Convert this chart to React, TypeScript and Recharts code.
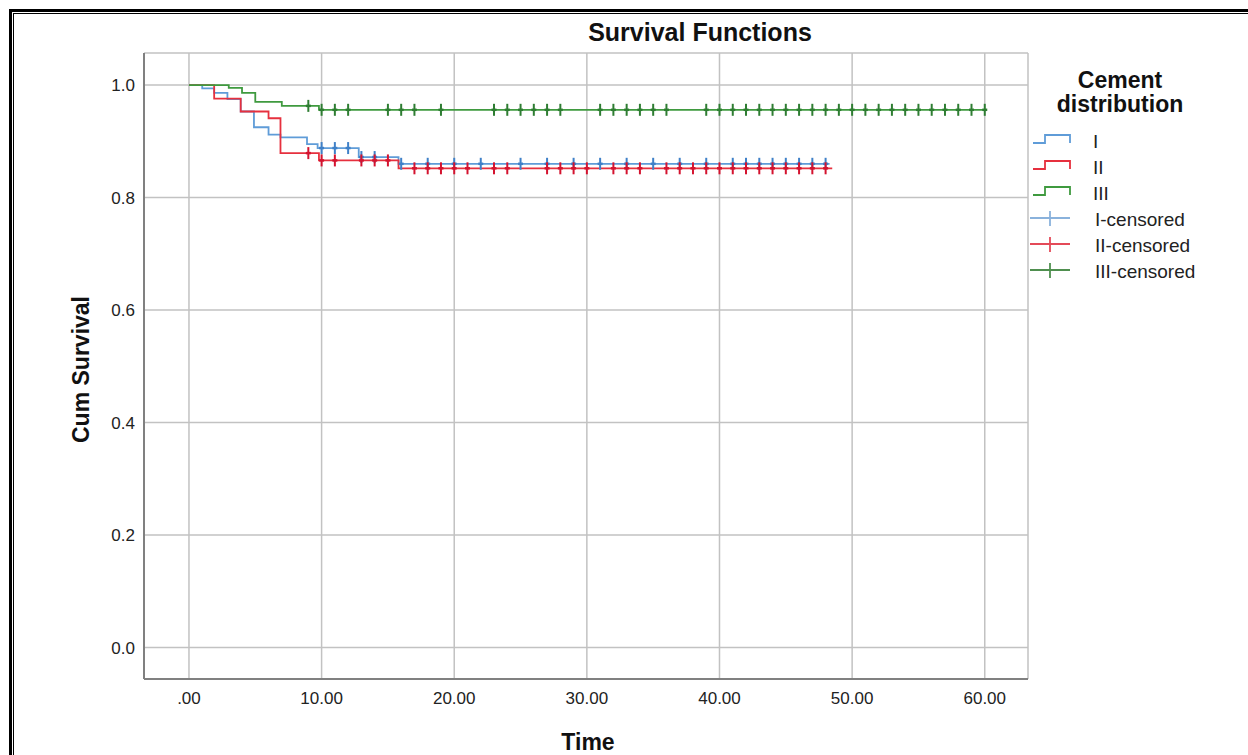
import React from "react";
import { ComposedChart, Line, Scatter, XAxis, YAxis, CartesianGrid } from "recharts";

// Kaplan-Meier steps: event time and survival after the step
const timeI = [0, 1, 1.9, 2.9, 3.9, 4.9, 6, 6.9, 8.9, 9.7, 12.8, 15.8];
const survI = [1, 0.994, 0.986, 0.975, 0.953, 0.925, 0.912, 0.907, 0.895, 0.888, 0.872, 0.86];
const endI = 48.3;

const timeII = [0, 1.9, 3.9, 6, 6.9, 9.8, 15.8];
const survII = [1, 0.976, 0.953, 0.941, 0.879, 0.866, 0.852];
const endII = 48.5;

const timeIII = [0, 3, 4, 5, 7, 9.8];
const survIII = [1, 0.995, 0.986, 0.97, 0.963, 0.956];
const endIII = 60.1;

// censored times
const censorI = [10, 11, 12, 13, 14, 16, 18, 20, 22, 25, 27, 29, 31, 33, 35, 37, 39, 41, 42, 43, 44, 45, 46, 47, 48];
const censorII = [9, 10, 11, 13, 14, 15, 17, 18, 19, 20, 21, 23, 24, 27, 28, 29, 30, 32, 33, 34, 36, 37, 38, 39, 40, 41, 42, 43, 44, 45, 46, 47, 48];
const censorIII = [9, 10, 11, 12, 15, 16, 17, 19, 23, 24, 25, 26, 27, 28, 31, 32, 33, 34, 35, 36, 39, 40, 41, 42, 43, 44, 45, 46, 47, 48, 49, 50, 51, 52, 53, 54, 55, 56, 57, 58, 59, 60];

const xTicks = [0, 10, 20, 30, 40, 50, 60];
const yTicks = [0, 0.2, 0.4, 0.6, 0.8, 1.0];

const legendLabels = ["I", "II", "III", "I-censored", "II-censored", "III-censored"];

const LINE = { I: "#5f9cd8", II: "#e6303e", III: "#3f9a3f" };
const TICK = { I: "#3f80c8", II: "#d4132f", III: "#2e7d32" };
const FONT = "'Liberation Sans', Arial, sans-serif";

const stepData = (times: number[], surv: number[], end: number) => [
  ...times.map((t, i) => ({ t, s: surv[i] })),
  { t: end, s: surv[surv.length - 1] },
];

const survAt = (times: number[], surv: number[], t: number) => {
  let s = surv[0];
  times.forEach((x, i) => {
    if (x <= t) s = surv[i];
  });
  return s;
};

const censorData = (cens: number[], times: number[], surv: number[]) =>
  cens.map((t) => ({ t, s: survAt(times, surv, t) }));

const censorShape = (color: string) => (props: any) => {
  const { cx, cy } = props;
  return (
    <g>
      <line x1={cx} x2={cx} y1={cy - 6} y2={cy + 6} stroke={color} strokeWidth={2} />
      <line x1={cx - 2.5} x2={cx + 2.5} y1={cy} y2={cy} stroke={color} strokeWidth={2.5} />
    </g>
  );
};

const XTick = ({ x, y, payload }: any) => (
  <text x={x} y={y} dy="0.71em" textAnchor="middle" fontSize={17} fill="#222" fontFamily={FONT}>
    {payload.value.toFixed(2).replace(/^0\./, ".")}
  </text>
);

const YTick = ({ x, y, payload }: any) => (
  <text x={x} y={y} dy="0.355em" textAnchor="end" fontSize={17} fill="#222" fontFamily={FONT}>
    {payload.value.toFixed(1)}
  </text>
);

const LegendBox = () => {
  const colors = [LINE.I, LINE.II, LINE.III, "#8ab2dc", "#e44a58", "#4f8f4f"];
  return (
    <svg width={215} height={230} style={{ display: "block" }}>
      <text x={90} y={28} textAnchor="middle" fontSize={23} fontWeight="bold" fontFamily={FONT} fill="#111">
        Cement
      </text>
      <text x={90} y={52} textAnchor="middle" fontSize={23} fontWeight="bold" fontFamily={FONT} fill="#111">
        distribution
      </text>
      {legendLabels.map((label, i) => {
        const cy = 81 + i * 26;
        const c = colors[i];
        const step = i < 3;
        return (
          <g key={label}>
            {step ? (
              <path d={`M3,${cy + 2} H15 V${cy - 6} H40 V${cy + 2}`} fill="none" stroke={c} strokeWidth={1.8} />
            ) : (
              <g>
                <line x1={0} x2={40} y1={cy - 1} y2={cy - 1} stroke={c} strokeWidth={1.8} />
                <line x1={20} x2={20} y1={cy - 8} y2={cy + 7} stroke={c} strokeWidth={1.8} />
              </g>
            )}
            <text x={step ? 63 : 65} y={cy} dy="0.355em" fontSize={19} fontFamily={FONT} fill="#222">
              {label}
            </text>
          </g>
        );
      })}
    </svg>
  );
};

export default function App() {
  const dI = stepData(timeI, survI, endI);
  const dII = stepData(timeII, survII, endII);
  const dIII = stepData(timeIII, survIII, endIII);
  const cI = censorData(censorI, timeI, survI);
  const cII = censorData(censorII, timeII, survII);
  const cIII = censorData(censorIII, timeIII, survIII);

  return (
    <div
      style={{
        position: "absolute",
        left: 0,
        top: 0,
        width: 1248,
        height: 755,
        overflow: "hidden",
        background: "#fff",
        fontFamily: FONT,
      }}
    >
      <div style={{ position: "absolute", left: 9, top: 9, width: 1400, height: 900, border: "3px solid #000" }} />
      <div style={{ position: "absolute", left: 13, top: 13, width: 1400, height: 900, border: "1.5px solid #000" }} />
      <div
        style={{
          position: "absolute",
          left: 500,
          top: 18,
          width: 400,
          textAlign: "center",
          fontSize: 25,
          fontWeight: "bold",
          color: "#111",
        }}
      >
        Survival Functions
      </div>
      <div
        style={{
          position: "absolute",
          left: 81 - 100,
          top: 370 - 14,
          width: 200,
          textAlign: "center",
          fontSize: 23,
          fontWeight: "bold",
          color: "#111",
          transform: "rotate(-90deg)",
        }}
      >
        Cum Survival
      </div>
      <div
        style={{
          position: "absolute",
          left: 488,
          top: 729,
          width: 200,
          textAlign: "center",
          fontSize: 23,
          fontWeight: "bold",
          color: "#111",
        }}
      >
        Time
      </div>
      <div style={{ position: "absolute", left: 1030, top: 60 }}>
        <LegendBox />
      </div>
      <div style={{ position: "absolute", left: 0, top: 0 }}>
        <ComposedChart width={1248} height={755} margin={{ top: 53, right: 220, bottom: 46, left: 84 }}>
          <CartesianGrid stroke="#c2c2c2" strokeWidth={1.5} />
          <XAxis
            type="number"
            dataKey="t"
            domain={[-3.39, 63.26]}
            ticks={xTicks}
            allowDataOverflow
            height={30}
            tickSize={0}
            tickMargin={13}
            tickLine={false}
            axisLine={{ stroke: "#808080", strokeWidth: 2 }}
            tick={<XTick />}
          />
          <YAxis
            type="number"
            dataKey="s"
            domain={[-0.056, 1.057]}
            ticks={yTicks}
            allowDataOverflow
            width={60}
            tickSize={0}
            tickMargin={9}
            tickLine={false}
            axisLine={{ stroke: "#808080", strokeWidth: 2 }}
            tick={<YTick />}
          />
          <Line data={dI} dataKey="s" type="stepAfter" stroke={LINE.I} strokeWidth={1.8} dot={false} isAnimationActive={false} />
          <Line data={dII} dataKey="s" type="stepAfter" stroke={LINE.II} strokeWidth={1.8} dot={false} isAnimationActive={false} />
          <Line data={dIII} dataKey="s" type="stepAfter" stroke={LINE.III} strokeWidth={1.8} dot={false} isAnimationActive={false} />
          <Scatter data={cI} dataKey="s" shape={censorShape(TICK.I)} isAnimationActive={false} />
          <Scatter data={cII} dataKey="s" shape={censorShape(TICK.II)} isAnimationActive={false} />
          <Scatter data={cIII} dataKey="s" shape={censorShape(TICK.III)} isAnimationActive={false} />
        </ComposedChart>
      </div>
    </div>
  );
}
